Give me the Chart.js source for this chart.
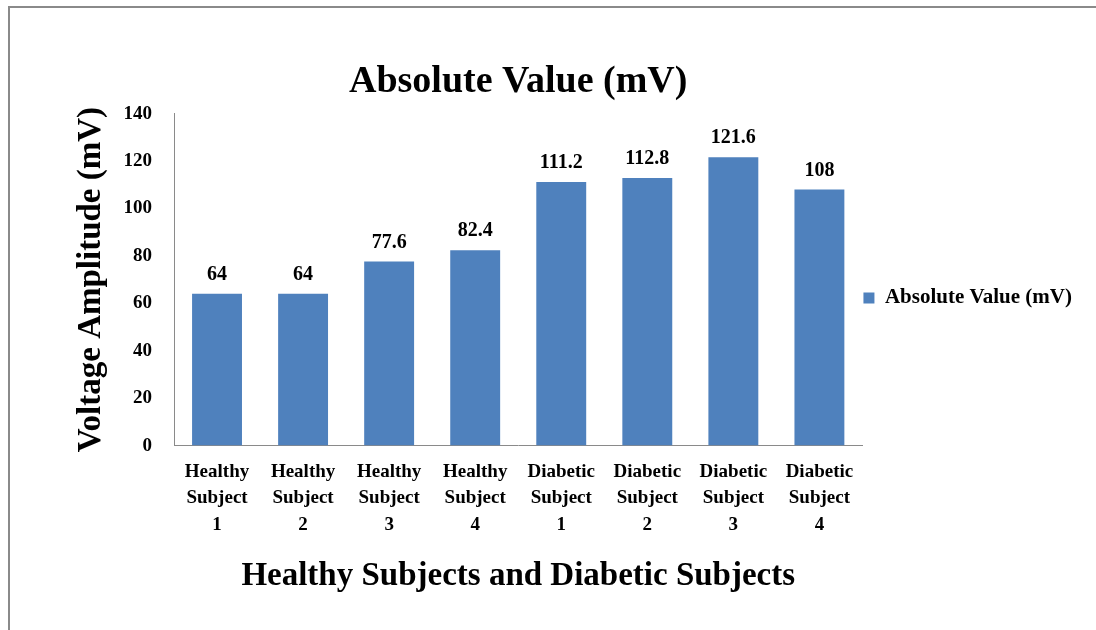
<!DOCTYPE html>
<html>
<head>
<meta charset="utf-8">
<script src="https://cdn.jsdelivr.net/npm/chart.js@4.4.1/dist/chart.umd.min.js"></script>
<style>
    html, body { margin: 0; padding: 0; background: #fff; }
    #wrap { position: relative; width: 1096px; height: 630px; overflow: hidden; }
    #frame { position: absolute; left: 8px; top: 6px; width: 1100px; height: 640px; border: 2px solid #8a8a8a; box-sizing: border-box; pointer-events: none; }
    canvas { position: absolute; left: 0; top: 0; }
</style>
</head>
<body>
<div id="wrap">
    <canvas id="absChart" width="1096" height="630"></canvas>
    <div id="frame"></div>
</div>
<script>
const categories = [
    ['Healthy', 'Subject', '1'],
    ['Healthy', 'Subject', '2'],
    ['Healthy', 'Subject', '3'],
    ['Healthy', 'Subject', '4'],
    ['Diabetic', 'Subject', '1'],
    ['Diabetic', 'Subject', '2'],
    ['Diabetic', 'Subject', '3'],
    ['Diabetic', 'Subject', '4']
];
const absoluteValues = [64, 64, 77.6, 82.4, 111.2, 112.8, 121.6, 108];
const yTicks = [0, 20, 40, 60, 80, 100, 120, 140];

const serif = '"Liberation Serif", "Times New Roman", serif';

// value labels on top of each bar
const barLabels = {
    id: 'barLabels',
    afterDatasetsDraw(chart) {
        const ctx = chart.ctx;
        const meta = chart.getDatasetMeta(0);
        ctx.save();
        ctx.font = 'bold 20px ' + serif;
        ctx.fillStyle = '#000';
        ctx.textAlign = 'center';
        ctx.textBaseline = 'bottom';
        meta.data.forEach(function (bar, i) {
            ctx.fillText(String(absoluteValues[i]), bar.x, bar.y - 9);
        });
        ctx.restore();
    }
};

const ctx = document.getElementById('absChart').getContext('2d');
new Chart(ctx, {
    type: 'bar',
    data: {
        labels: categories,
        datasets: [{
            label: 'Absolute Value (mV)',
            data: absoluteValues,
            backgroundColor: '#4F81BD',
            borderWidth: 0,
            barPercentage: 0.58,
            categoryPercentage: 1.0
        }]
    },
    options: {
        responsive: false,
        animation: false,
        layout: {
            padding: { top: 0, left: 72, right: 14, bottom: 34 }
        },
        plugins: {
            title: {
                display: true,
                text: 'Absolute Value (mV)',
                fullSize: false,
                color: '#000',
                font: { family: serif, size: 38, weight: 'bold' },
                padding: { top: 59, bottom: 9 }
            },
            legend: {
                position: 'right',
                labels: {
                    color: '#000',
                    boxWidth: 11,
                    boxHeight: 11,
                    padding: 1,
                    font: { family: serif, size: 21, weight: 'bold' }
                }
            },
            tooltip: { enabled: false }
        },
        scales: {
            x: {
                grid: { display: false },
                border: { color: '#8a8a8a', width: 1 },
                ticks: {
                    color: '#000',
                    padding: 5,
                    maxRotation: 0,
                    autoSkip: false,
                    font: { family: serif, size: 19, weight: 'bold', lineHeight: 1.4 }
                },
                title: {
                    display: true,
                    text: 'Healthy Subjects and Diabetic Subjects',
                    color: '#000',
                    font: { family: serif, size: 33, weight: 'bold' },
                    padding: { top: 13, bottom: 0 }
                }
            },
            y: {
                min: 0,
                max: 140,
                afterBuildTicks(axis) {
                    axis.ticks = yTicks.map(function (v) { return { value: v }; });
                },
                afterFit(axis) {
                    axis.width = 102;
                },
                grid: { display: false },
                border: { color: '#8a8a8a', width: 1 },
                ticks: {
                    color: '#000',
                    padding: 14,
                    font: { family: serif, size: 19, weight: 'bold' }
                },
                title: {
                    display: true,
                    text: 'Voltage Amplitude (mV)',
                    color: '#000',
                    font: { family: serif, size: 33, weight: 'bold' },
                    padding: { top: 0, bottom: 10 }
                }
            }
        }
    },
    plugins: [barLabels]
});
</script>
</body>
</html>
